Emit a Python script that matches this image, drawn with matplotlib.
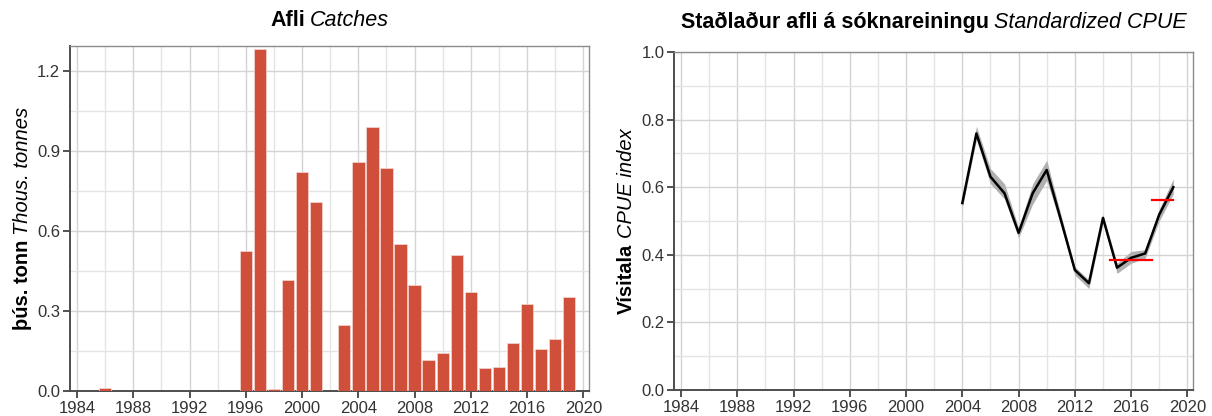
import numpy as np
import matplotlib
matplotlib.use('Agg')
import matplotlib.pyplot as plt
from matplotlib.ticker import MultipleLocator

plt.rcParams['font.family'] = ['Liberation Sans', 'DejaVu Sans']

# Afli (catches), thousand tonnes
catch_years = [1986, 1996, 1997, 1998, 1999, 2000, 2001, 2003, 2004, 2005,
               2006, 2007, 2008, 2009, 2010, 2011, 2012, 2013, 2014, 2015,
               2016, 2017, 2018, 2019]
catch_vals = [0.011, 0.525, 1.283, 0.009, 0.416, 0.822, 0.708, 0.247, 0.861, 0.991,
              0.838, 0.552, 0.396, 0.115, 0.142, 0.510, 0.373, 0.086, 0.090, 0.182,
              0.328, 0.159, 0.194, 0.351]

# Standardized CPUE
cpue_years = list(range(2004, 2020))
cpue_vals = [0.553, 0.759, 0.631, 0.582, 0.465, 0.582, 0.651, 0.504,
             0.355, 0.316, 0.509, 0.362, 0.391, 0.404, 0.519, 0.600]
cpue_lo = [0.540, 0.740, 0.610, 0.565, 0.450, 0.550, 0.620, 0.490,
           0.340, 0.300, 0.495, 0.345, 0.375, 0.390, 0.500, 0.580]
cpue_hi = [0.565, 0.780, 0.655, 0.610, 0.480, 0.610, 0.680, 0.520,
           0.365, 0.325, 0.520, 0.375, 0.410, 0.415, 0.535, 0.625]

# red reference segments (mean of recent years)
ref1_x = [2014.5, 2017.5]
ref1_y = 0.386
ref2_x = [2017.5, 2019.0]
ref2_y = 0.562

bar_col = '#cf4f3b'
grid_major = '#d4d4d4'
grid_minor = '#e4e4e4'

fig = plt.figure(figsize=(12.12, 4.16), dpi=100)
W, H = 1212, 416
ax1 = fig.add_axes([70 / W, 1 - 391 / H, 519 / W, (391 - 45.7) / H])
ax2 = fig.add_axes([674 / W, 1 - 390 / H, 519 / W, (390 - 52) / H])


def style_axes(ax, ymaj, ymin):
    ax.set_xlim(1983.5, 2020.4)
    ax.xaxis.set_major_locator(MultipleLocator(4))
    ax.xaxis.set_minor_locator(MultipleLocator(2))
    ax.yaxis.set_major_locator(MultipleLocator(ymaj))
    ax.yaxis.set_minor_locator(MultipleLocator(ymin))
    ax.grid(True, which='major', color=grid_major, lw=1.0)
    ax.grid(True, which='minor', color=grid_minor, lw=1.0)
    ax.set_axisbelow(True)
    ax.tick_params(which='major', direction='out', length=5, width=1.2,
                   color='#333333', labelsize=12, labelcolor='#333333', pad=2)
    ax.tick_params(which='minor', length=0)
    for s in ['top', 'right']:
        ax.spines[s].set_color('#8c8c8c')
        ax.spines[s].set_linewidth(1.0)
    for s in ['left', 'bottom']:
        ax.spines[s].set_color('#4d4d4d')
        ax.spines[s].set_linewidth(1.4)


# left panel: catches
ax1.bar(catch_years, catch_vals, width=0.88, color=bar_col,
        edgecolor='#f3d9d4', linewidth=0.5, zorder=3)
style_axes(ax1, 0.3, 0.15)
ax1.set_ylim(0, 1.296)
ax1.yaxis.set_major_formatter(matplotlib.ticker.FormatStrFormatter('%.1f'))

# right panel: CPUE
ax2.fill_between(cpue_years, cpue_lo, cpue_hi, color='#b0b0b0', lw=0, zorder=3)
ax2.plot(cpue_years, cpue_vals, color='black', lw=1.8, zorder=4)
ax2.plot(ref1_x, [ref1_y, ref1_y], color='red', lw=1.6, zorder=5)
ax2.plot(ref2_x, [ref2_y, ref2_y], color='red', lw=1.6, zorder=5)
style_axes(ax2, 0.2, 0.1)
ax2.set_ylim(0, 1.0)
ax2.yaxis.set_major_formatter(matplotlib.ticker.FormatStrFormatter('%.1f'))

fig.canvas.draw()
renderer = fig.canvas.get_renderer()


def mixed_text(cx, cy, parts, size, rotation=0, gap=4):
    # parts: list of (text, weight, style); cx, cy in pixels (from bottom)
    texts = []
    for s, wt, st in parts:
        t = fig.text(0, 0, s, fontsize=size, fontweight=wt, fontstyle=st,
                     rotation=rotation, rotation_mode='anchor',
                     ha='left', va='baseline', color='black')
        texts.append(t)
    ext = [t.get_window_extent(renderer) for t in texts]
    if rotation == 0:
        lens = [e.width for e in ext]
    else:
        lens = [e.height for e in ext]
    total = sum(lens) + gap * (len(parts) - 1)
    pos = -total / 2
    for t, ln in zip(texts, lens):
        if rotation == 0:
            t.set_position(((cx + pos) / W, cy / H))
        else:
            t.set_position((cx / W, (cy + pos) / H))
        pos += ln + gap


mixed_text((70 + 589) / 2, H - 26, [('Afli', 'bold', 'normal'),
                                    ('Catches', 'normal', 'italic')], 15.5, gap=5)
mixed_text((674 + 1193) / 2, H - 28, [('Staðlaður afli á sóknareiningu', 'bold', 'normal'),
                                      ('Standardized CPUE', 'normal', 'italic')], 15.5, gap=5)
mixed_text(28, H - (391 + 45.7) / 2, [('þús. tonn', 'bold', 'normal'),
                                     ('Thous. tonnes', 'normal', 'italic')], 14.5, rotation=90, gap=5)
mixed_text(632, H - (390 + 52) / 2, [('Vísitala', 'bold', 'normal'),
                                    ('CPUE index', 'normal', 'italic')], 14.5, rotation=90, gap=5)

fig.savefig('out.png', dpi=100)
